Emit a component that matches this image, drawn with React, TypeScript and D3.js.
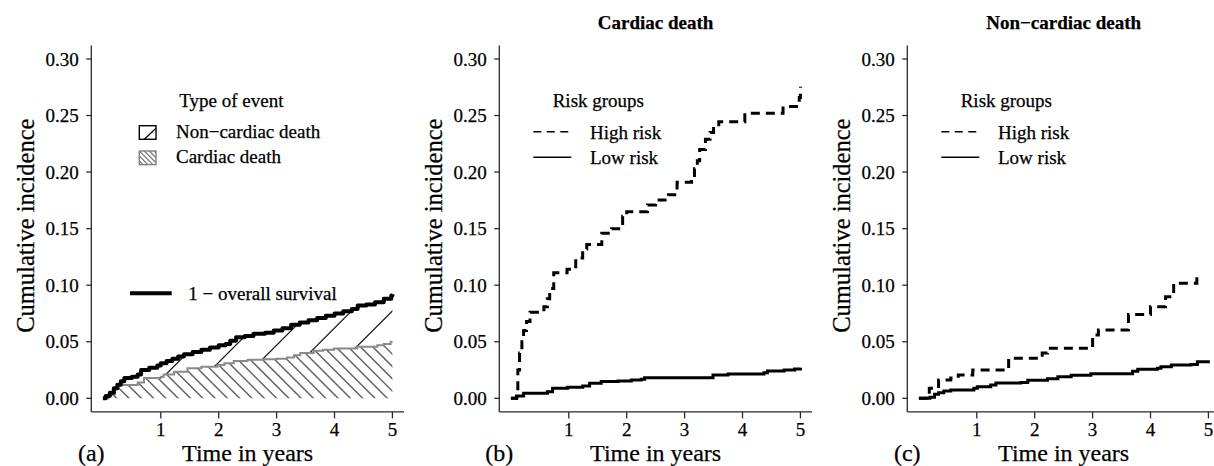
import React from 'react';
import * as d3 from 'd3';

// ---------- DATA ----------
// Panel (a): 1 - overall survival (step function)
const overallTimes = [0, 0.05, 0.12, 0.19, 0.25, 0.31, 0.37, 0.50, 0.60, 0.66, 0.80, 0.94, 1.00, 1.10, 1.20, 1.30, 1.40, 1.55, 1.70, 1.85, 2.00, 2.12, 2.20, 2.30, 2.45, 2.60, 2.80, 2.95, 3.10, 3.25, 3.40, 3.55, 3.70, 3.85, 4.00, 4.15, 4.30, 4.40, 4.55, 4.70, 4.85, 4.98, 5.00];
const overallValues = [0, 0.002, 0.005, 0.009, 0.012, 0.015, 0.018, 0.019, 0.021, 0.025, 0.027, 0.029, 0.031, 0.033, 0.035, 0.037, 0.039, 0.041, 0.043, 0.045, 0.047, 0.048, 0.051, 0.054, 0.055, 0.057, 0.058, 0.060, 0.062, 0.065, 0.067, 0.069, 0.071, 0.073, 0.075, 0.077, 0.079, 0.082, 0.083, 0.085, 0.088, 0.091, 0.092];
// Panel (a): cardiac death cumulative incidence (stack base)
const cardiacTimes = [0, 0.10, 0.20, 0.25, 0.60, 0.71, 1.00, 1.05, 1.23, 1.46, 1.70, 1.98, 2.10, 2.26, 2.50, 2.78, 3.00, 3.18, 3.30, 3.41, 3.64, 3.80, 3.99, 4.39, 4.74, 4.85, 4.97, 5.00];
const cardiacValues = [0, 0.003, 0.008, 0.0117, 0.014, 0.018, 0.019, 0.021, 0.0235, 0.0265, 0.028, 0.0295, 0.031, 0.033, 0.034, 0.0345, 0.035, 0.036, 0.038, 0.040, 0.042, 0.043, 0.044, 0.0455, 0.047, 0.048, 0.050, 0.050];

// Panel (b): cardiac death by risk group
const highCardTimes = [0, 0.10, 0.12, 0.15, 0.19, 0.22, 0.27, 0.33, 0.57, 0.63, 0.67, 0.74, 0.97, 1.12, 1.24, 1.31, 1.57, 1.74, 1.93, 2.00, 2.36, 2.50, 2.72, 2.87, 3.12, 3.17, 3.22, 3.26, 3.36, 3.44, 3.50, 3.59, 4.04, 4.70, 4.98, 5.00];
const highCardValues = [0, 0.005, 0.025, 0.040, 0.050, 0.060, 0.068, 0.076, 0.081, 0.088, 0.097, 0.111, 0.114, 0.124, 0.132, 0.136, 0.146, 0.150, 0.161, 0.165, 0.171, 0.1753, 0.180, 0.191, 0.197, 0.203, 0.210, 0.220, 0.229, 0.235, 0.240, 0.2446, 0.252, 0.258, 0.266, 0.2755];
const lowCardTimes = [0, 0.10, 0.22, 0.63, 0.72, 0.98, 1.24, 1.36, 1.56, 1.85, 2.08, 2.25, 2.31, 3.49, 3.75, 4.37, 4.43, 4.72, 4.90, 5.00];
const lowCardValues = [0, 0.002, 0.0044, 0.0059, 0.0088, 0.0097, 0.011, 0.0133, 0.0148, 0.0153, 0.0162, 0.0168, 0.0183, 0.0206, 0.0215, 0.0227, 0.0242, 0.025, 0.026, 0.0271];

// Panel (c): non-cardiac death by risk group
const highNonTimes = [0, 0.18, 0.34, 0.55, 0.68, 0.93, 1.55, 2.13, 2.22, 3.00, 3.10, 3.62, 4.00, 4.26, 4.40, 4.80];
const highNonValues = [0, 0.0088, 0.0162, 0.018, 0.0206, 0.025, 0.0354, 0.040, 0.0442, 0.056, 0.0604, 0.074, 0.081, 0.0898, 0.1017, 0.110];
const lowNonTimes = [0, 0.19, 0.27, 0.34, 0.43, 0.55, 0.95, 1.01, 1.24, 1.33, 1.76, 1.88, 2.22, 2.40, 2.63, 2.97, 3.69, 3.78, 4.12, 4.18, 4.36, 4.70, 4.81, 5.00];
const lowNonValues = [0, 0.001, 0.0035, 0.005, 0.0065, 0.0074, 0.0088, 0.0103, 0.0118, 0.0136, 0.0139, 0.016, 0.0174, 0.019, 0.0203, 0.0218, 0.024, 0.0256, 0.0265, 0.028, 0.0295, 0.030, 0.0324, 0.0336];

// Ticks and labels
const xTicks = [1, 2, 3, 4, 5];
const yTicks = [0, 0.05, 0.10, 0.15, 0.20, 0.25, 0.30];
const panelLetters = ['(a)', '(b)', '(c)'];
const panelTitles = ['', 'Cardiac death', 'Non\u2212cardiac death'];
const xTitle = 'Time in years';
const yTitle = 'Cumulative incidence';
const legendATitle = 'Type of event';
const legendALabels = ['Non\u2212cardiac death', 'Cardiac death'];
const overallLabel = '1 \u2212 overall survival';
const riskTitle = 'Risk groups';
const riskLabels = ['High risk', 'Low risk'];

// ---------- LAYOUT ----------
const FONT = "'Liberation Serif', 'Times New Roman', Times, serif";
const PANEL_LEFT = [91.3, 499.3, 907.3];
const PW = 312.7;
const TOP = 45.4;
const BOTTOM = 411.9;
const AXIS_COLOR = '#2a2a2a';
const TXT_STROKE = 0.25;

function makeScales(L: number) {
  const x = d3.scaleLinear().domain([-0.2, 5.2]).range([L, L + PW]);
  const y = d3.scaleLinear().domain([-0.012, 0.312]).range([BOTTOM, TOP]);
  return { x, y };
}

type Sc = ReturnType<typeof makeScales>;

function stepPath(ts: number[], vs: number[], s: Sc) {
  const line = d3
    .line<number>()
    .x((_, i) => s.x(ts[i]))
    .y((_, i) => s.y(vs[i]))
    .curve(d3.curveStepAfter);
  return line(vs) || '';
}

function stepVerts(ts: number[], vs: number[], s: Sc): [number, number][] {
  const pts: [number, number][] = [];
  for (let i = 0; i < ts.length; i++) {
    if (i > 0) pts.push([s.x(ts[i]), s.y(vs[i - 1])]);
    pts.push([s.x(ts[i]), s.y(vs[i])]);
  }
  return pts;
}

function hatch(kind: '/' | '\\', c0: number, sp: number, x0: number, x1: number, y0: number, y1: number) {
  const lines: [number, number, number, number][] = [];
  if (kind === '/') {
    const cmin = x0 + y0, cmax = x1 + y1;
    const kmin = Math.floor((cmin - c0) / sp), kmax = Math.ceil((cmax - c0) / sp);
    for (let k = kmin; k <= kmax; k++) {
      const c = c0 + k * sp;
      lines.push([c - y1, y1, c - y0, y0]);
    }
  } else {
    const cmin = y0 - x1, cmax = y1 - x0;
    const kmin = Math.floor((cmin - c0) / sp), kmax = Math.ceil((cmax - c0) / sp);
    for (let k = kmin; k <= kmax; k++) {
      const c = c0 + k * sp;
      lines.push([y0 - c, y0, y1 - c, y1]);
    }
  }
  return lines;
}

function Axes({ idx }: { idx: number }) {
  const L = PANEL_LEFT[idx];
  const s = makeScales(L);
  const fmt = d3.format('.2f');
  return (
    <g fontFamily={FONT} fill="#000" stroke="#000" strokeWidth={TXT_STROKE}>
      <line x1={L} x2={L} y1={TOP} y2={BOTTOM} stroke={AXIS_COLOR} strokeWidth={1.3} />
      <line x1={L} x2={L + PW} y1={BOTTOM} y2={BOTTOM} stroke={AXIS_COLOR} strokeWidth={1.3} />
      {yTicks.map((t) => (
        <g key={'y' + t}>
          <line x1={L - 5} x2={L} y1={s.y(t)} y2={s.y(t)} stroke={AXIS_COLOR} strokeWidth={1.3} />
          <text x={L - 12.5} y={s.y(t)} dy="0.35em" textAnchor="end" fontSize={19}>
            {fmt(t)}
          </text>
        </g>
      ))}
      {xTicks.map((t) => (
        <g key={'x' + t}>
          <line x1={s.x(t)} x2={s.x(t)} y1={BOTTOM} y2={BOTTOM + 6.5} stroke={AXIS_COLOR} strokeWidth={1.3} />
          <text x={s.x(t)} y={436} textAnchor="middle" fontSize={19}>
            {t}
          </text>
        </g>
      ))}
      <text x={L + PW / 2} y={460.5} textAnchor="middle" fontSize={24}>
        {xTitle}
      </text>
      <text x={L} y={460.5} textAnchor="middle" fontSize={24}>
        {panelLetters[idx]}
      </text>
      <text
        transform={`translate(${L - 57.5},${(TOP + BOTTOM) / 2 - 3}) rotate(-90)`}
        textAnchor="middle"
        fontSize={24.5}
      >
        {yTitle}
      </text>
      {panelTitles[idx] && (
        <text x={L + PW / 2} y={29} textAnchor="middle" fontSize={19} fontWeight="bold">
          {panelTitles[idx]}
        </text>
      )}
    </g>
  );
}

function PanelA() {
  const L = PANEL_LEFT[0];
  const s = makeScales(L);
  const upper = stepVerts(overallTimes, overallValues, s);
  const lower = stepVerts(cardiacTimes, cardiacValues, s);
  const nonCardPoly = [...upper, ...lower.slice().reverse()];
  const cardPoly = [...lower, [s.x(5), s.y(0)] as [number, number], [s.x(0), s.y(0)] as [number, number]];
  const polyD = (p: [number, number][]) => 'M' + p.map((q) => q.join(',')).join('L') + 'Z';
  const slashLines = hatch('/', L + 449, 40.75, L, L + PW, TOP, BOTTOM);
  const backLines = hatch('\\', 281.6, 12.3, L, L + PW, TOP, BOTTOM);

  const bx = L + 48;
  const bw = 16.7, bh = 13.6;
  const b1y = 125.7, b2y = 151;
  const legBack = hatch('\\', b2y - bx, 5, bx, bx + bw, b2y, b2y + bh);

  return (
    <g>
      <defs>
        <clipPath id="clipNonCard">
          <path d={polyD(nonCardPoly)} />
        </clipPath>
        <clipPath id="clipCard">
          <path d={polyD(cardPoly)} />
        </clipPath>
        <clipPath id="clipLegBox2">
          <rect x={bx} y={b2y} width={bw} height={bh} />
        </clipPath>
      </defs>
      <g clipPath="url(#clipCard)">
        {backLines.map((l, i) => (
          <line key={i} x1={l[0]} y1={l[1]} x2={l[2]} y2={l[3]} stroke="#666" strokeWidth={1.5} />
        ))}
      </g>
      <g clipPath="url(#clipNonCard)">
        {slashLines.map((l, i) => (
          <line key={i} x1={l[0]} y1={l[1]} x2={l[2]} y2={l[3]} stroke="#111" strokeWidth={1.2} />
        ))}
      </g>
      <path d={stepPath(cardiacTimes, cardiacValues, s)} fill="none" stroke="#8a8a8a" strokeWidth={2} />
      <path d={stepPath(overallTimes, overallValues, s)} fill="none" stroke="#000" strokeWidth={4} strokeLinejoin="round" />

      <g fontFamily={FONT} fontSize={19} fill="#000">
        <text x={L + 88} y={106.7} stroke="#000" strokeWidth={TXT_STROKE}>{legendATitle}</text>
        <rect x={bx} y={b1y} width={bw} height={bh} fill="#fff" stroke="#000" strokeWidth={1.4} />
        <line x1={bx + 5} y1={b1y + bh} x2={bx + bw} y2={b1y + 2.5} stroke="#000" strokeWidth={1.2} />
        <text x={L + 84.7} y={138.3} stroke="#000" strokeWidth={TXT_STROKE}>{legendALabels[0]}</text>
        <g clipPath="url(#clipLegBox2)">
          {legBack.map((l, i) => (
            <line key={i} x1={l[0]} y1={l[1]} x2={l[2]} y2={l[3]} stroke="#777" strokeWidth={1.2} />
          ))}
        </g>
        <rect x={bx} y={b2y} width={bw} height={bh} fill="none" stroke="#808080" strokeWidth={1.4} />
        <text x={L + 84.7} y={163.3} stroke="#000" strokeWidth={TXT_STROKE}>{legendALabels[1]}</text>

        <line x1={L + 38.7} x2={L + 80.4} y1={293.3} y2={293.3} stroke="#000" strokeWidth={4} />
        <text x={L + 97} y={300} stroke="#000" strokeWidth={TXT_STROKE}>{overallLabel}</text>
      </g>
    </g>
  );
}

function RiskPanel({ idx, hT, hV, lT, lV }: { idx: number; hT: number[]; hV: number[]; lT: number[]; lV: number[] }) {
  const L = PANEL_LEFT[idx];
  const s = makeScales(L);
  return (
    <g>
      <path d={stepPath(lT, lV, s)} fill="none" stroke="#000" strokeWidth={3} />
      <path d={stepPath(hT, hV, s)} fill="none" stroke="#000" strokeWidth={3} strokeDasharray="9,6" />
      <g fontFamily={FONT} fontSize={19} fill="#000">
        <text x={L + 53.4} y={106.7} stroke="#000" strokeWidth={TXT_STROKE}>{riskTitle}</text>
        <line x1={L + 34} x2={L + 69} y1={131.7} y2={131.7} stroke="#000" strokeWidth={1.5} strokeDasharray="8,5.5" />
        <text x={L + 90.7} y={139} stroke="#000" strokeWidth={TXT_STROKE}>{riskLabels[0]}</text>
        <line x1={L + 34} x2={L + 72} y1={157.3} y2={157.3} stroke="#000" strokeWidth={1.5} />
        <text x={L + 90.7} y={164} stroke="#000" strokeWidth={TXT_STROKE}>{riskLabels[1]}</text>
      </g>
    </g>
  );
}

export default function App() {
  return (
    <svg
      width={1214}
      height={466}
      viewBox="0 0 1214 466"
      style={{ position: 'absolute', left: 0, top: 0, background: '#fff' }}
    >
      <rect x={0} y={0} width={1214} height={466} fill="#fff" />
      <PanelA />
      <RiskPanel idx={1} hT={highCardTimes} hV={highCardValues} lT={lowCardTimes} lV={lowCardValues} />
      <RiskPanel idx={2} hT={highNonTimes} hV={highNonValues} lT={lowNonTimes} lV={lowNonValues} />
      {[0, 1, 2].map((i) => (
        <Axes key={i} idx={i} />
      ))}
    </svg>
  );
}
